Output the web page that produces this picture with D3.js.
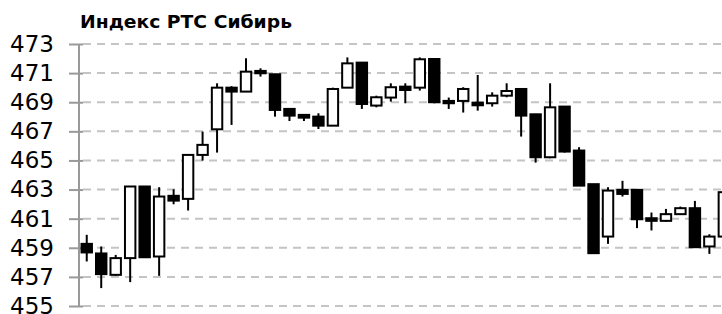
<!DOCTYPE html>
<html>
<head>
<meta charset="utf-8">
<script src="https://cdn.jsdelivr.net/npm/d3@7"></script>
<style>
  html, body { margin: 0; padding: 0; background: #fff; }
  svg { display: block; }
</style>
</head>
<body>
<svg id="chart" width="722" height="314"></svg>
<script>
const title = "Индекс РТС Сибирь";
const days = d3.range(1, 46).map(String);
const open  = [459.27,458.61,457.14,458.29,463.21,458.40,462.57,462.36,465.38,467.14,
               470.00,469.73,471.15,470.92,468.54,468.13,468.01,467.39,470.00,471.72,
               468.77,469.32,470.07,470.00,471.97,469.09,469.09,468.97,468.93,469.45,
               469.91,468.17,465.22,468.70,465.68,463.37,459.77,462.98,462.98,461.03,
               460.85,461.31,461.72,459.09,459.77];
const high  = [459.89,459.09,458.51,463.21,463.21,463.16,463.02,465.40,466.98,470.30,
               470.10,472.02,471.33,470.95,468.55,468.15,468.24,470.00,472.08,471.72,
               469.45,470.30,470.30,472.08,472.00,469.32,470.03,470.87,469.68,470.30,
               469.93,468.20,470.30,468.70,465.91,463.37,463.16,463.60,463.00,461.42,
               461.67,461.83,462.22,459.93,462.82];
const low   = [458.06,456.23,457.07,456.64,458.35,457.07,461.99,461.56,464.99,465.54,
               467.44,469.70,470.76,468.01,467.71,467.71,467.16,467.39,469.98,468.54,
               468.65,469.04,468.93,469.80,468.93,468.54,468.29,468.42,468.70,469.34,
               466.64,464.85,465.15,465.54,463.27,458.58,459.27,462.52,460.35,460.19,
               460.80,461.30,459.00,458.58,459.77];
const close = [458.68,457.19,458.29,463.21,458.35,462.52,462.24,465.38,466.07,470.00,
               469.73,471.10,470.99,468.47,468.08,467.94,467.39,469.91,471.67,468.88,
               469.34,470.03,469.84,471.95,469.00,468.93,469.91,468.79,469.45,469.77,
               468.08,465.22,468.65,465.61,463.27,458.63,462.93,462.70,460.96,460.85,
               461.31,461.72,459.04,459.77,462.82];
const yTicks = [455,457,459,461,463,465,467,469,471,473];

const data = days.map((d, i) => ({day: d, o: open[i], h: high[i], l: low[i], c: close[i]}));

const svg = d3.select("#chart");
const axisX = 79;
const step = 14.48;

const x = d3.scaleBand().domain(days).range([axisX + 0.5, axisX + 0.5 + days.length * step]).padding(0);
const y = d3.scaleLinear().domain([455, 473]).range([306, 44]);

// gridlines
svg.append("g").selectAll("line").data(yTicks).join("line")
  .attr("x1", axisX + 4).attr("x2", 722)
  .attr("y1", d => y(d)).attr("y2", d => y(d))
  .attr("stroke", "#c4c4c4").attr("stroke-width", 2)
  .attr("stroke-dasharray", "8,6");

// axis
const axis = d3.axisLeft(y).tickValues(yTicks).tickSize(10).tickPadding(15).tickFormat(d3.format("d"));
const gAxis = svg.append("g").attr("transform", `translate(${axisX},0)`).call(axis);
gAxis.select(".domain").attr("stroke", "#999").attr("stroke-width", 2).attr("d", `M0,${y(473)}V${y(455)}`);
gAxis.selectAll(".tick line").attr("stroke", "#999").attr("stroke-width", 2).attr("x1", 4);
gAxis.selectAll(".tick text")
  .attr("fill", "#000")
  .style("font-family", "'DejaVu Sans', Verdana, sans-serif")
  .style("font-size", "23px");

// candles
const bw = x.bandwidth() * 0.72;
const g = svg.append("g");
const candle = g.selectAll("g").data(data).join("g");
candle.append("line")
  .attr("x1", d => x(d.day) + x.bandwidth() / 2)
  .attr("x2", d => x(d.day) + x.bandwidth() / 2)
  .attr("y1", d => y(d.h)).attr("y2", d => y(d.l))
  .attr("stroke", "#000").attr("stroke-width", 2);
candle.append("rect")
  .attr("x", d => x(d.day) + (x.bandwidth() - bw) / 2)
  .attr("width", bw)
  .attr("y", d => y(Math.max(d.o, d.c)))
  .attr("height", d => Math.max(1, Math.abs(y(d.o) - y(d.c))))
  .attr("fill", d => d.c >= d.o ? "#fff" : "#000")
  .attr("stroke", "#000").attr("stroke-width", 2);

// title
svg.append("text")
  .attr("x", 80).attr("y", 28)
  .attr("textLength", 212).attr("lengthAdjust", "spacingAndGlyphs")
  .style("font-family", "'DejaVu Sans', Verdana, sans-serif")
  .style("font-weight", "bold")
  .style("font-size", "18px")
  .attr("fill", "#000")
  .text(title);
</script>
</body>
</html>
